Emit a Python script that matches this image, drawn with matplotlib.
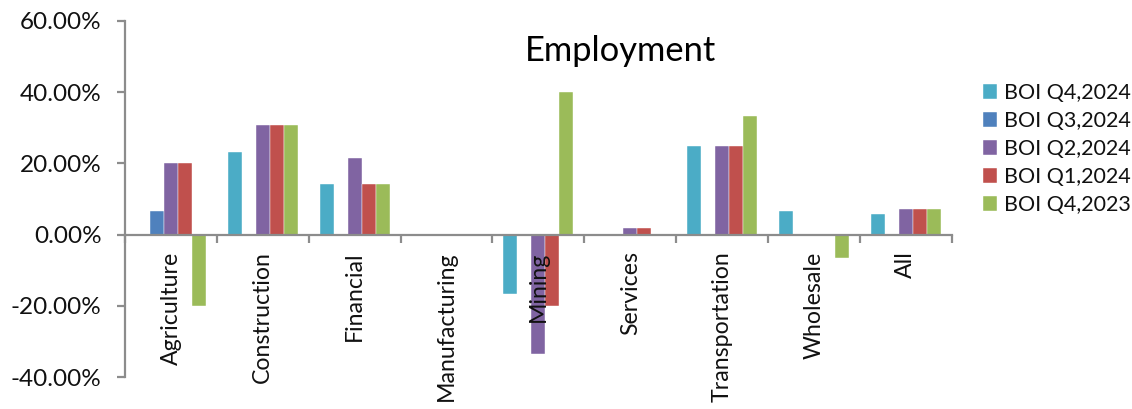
import numpy as np
from matplotlib import pyplot as plt
from matplotlib.ticker import FixedLocator, FuncFormatter

plt.rcParams['font.family'] = ['Lato', 'DejaVu Sans']

categories = ['Agriculture', 'Construction', 'Financial', 'Manufacturing', 'Mining',
              'Services', 'Transportation', 'Wholesale', 'All']
series_names = ['BOI Q4,2024', 'BOI Q3,2024', 'BOI Q2,2024', 'BOI Q1,2024', 'BOI Q4,2023']
q4_2024 = [0.0, 23.08, 14.29, 0.0, -16.67, 0.0, 25.0, 6.67, 5.7]
q3_2024 = [6.67, 0.0, 0.0, 0.0, 0.0, 0.0, 0.0, 0.0, 0.0]
q2_2024 = [20.0, 30.77, 21.43, 0.0, -33.33, 2.0, 25.0, 0.0, 7.2]
q1_2024 = [20.0, 30.77, 14.29, 0.0, -20.0, 2.0, 25.0, 0.0, 7.2]
q4_2023 = [-20.0, 30.77, 14.29, 0.0, 40.0, 0.0, 33.33, -6.67, 7.2]
colors = ['#4BACC6', '#4F81BD', '#8064A2', '#C0504D', '#9BBB59']

fig = plt.figure(figsize=(11.32, 4.09), dpi=100)
ax = fig.add_axes([125 / 1132, 1 - 377.3 / 409, 826.7 / 1132, 356.6 / 409])

x = np.arange(len(categories))
width = 0.153
for i, vals in enumerate([q4_2024, q3_2024, q2_2024, q1_2024, q4_2023]):
    ax.bar(x + (i - 2) * width, vals, width, color=colors[i], label=series_names[i],
           edgecolor='white', linewidth=0.3)

ax.set_xlim(-0.5, len(categories) - 0.5)
ax.set_ylim(-40, 60)
ax.set_yticks([-40, -20, 0, 20, 40, 60])
ax.yaxis.set_major_formatter(FuncFormatter(lambda v, p: '%.2f%%' % v))

for s in ['top', 'right']:
    ax.spines[s].set_visible(False)
ax.spines['bottom'].set_position(('data', 0))
for s in ['left', 'bottom']:
    ax.spines[s].set_color('#8c8c8c')
    ax.spines[s].set_linewidth(1.6)

# ticks at category boundaries, labels at centres
ax.xaxis.set_major_locator(FixedLocator(np.arange(len(categories) + 1) - 0.5))
ax.xaxis.set_major_formatter(FuncFormatter(lambda v, p: ''))
ax.xaxis.set_minor_locator(FixedLocator(x))
ax.set_xticklabels(categories, minor=True, rotation=90, va='top', ha='center')
ax.tick_params(axis='x', which='major', length=6, width=1.6, color='#8c8c8c', direction='out')
ax.tick_params(axis='x', which='minor', length=0, pad=12, labelsize=16.7, labelcolor='#111111')
ax.tick_params(axis='y', length=6, width=1.6, color='#8c8c8c', labelsize=17.5,
               labelcolor='#111111', pad=11)

fig.text(621 / 1132, 1 - 51 / 409, 'Employment', fontsize=24.8, ha='center', va='center',
         color='black')

fig.legend(loc='center left', bbox_to_anchor=(972 / 1132, 1 - 149 / 409), frameon=False,
           fontsize=15.5, handlelength=0.68, handleheight=0.68, handletextpad=0.3,
           labelspacing=0.37, borderpad=0, labelcolor='#111111')

fig.savefig('out.png', dpi=100)
